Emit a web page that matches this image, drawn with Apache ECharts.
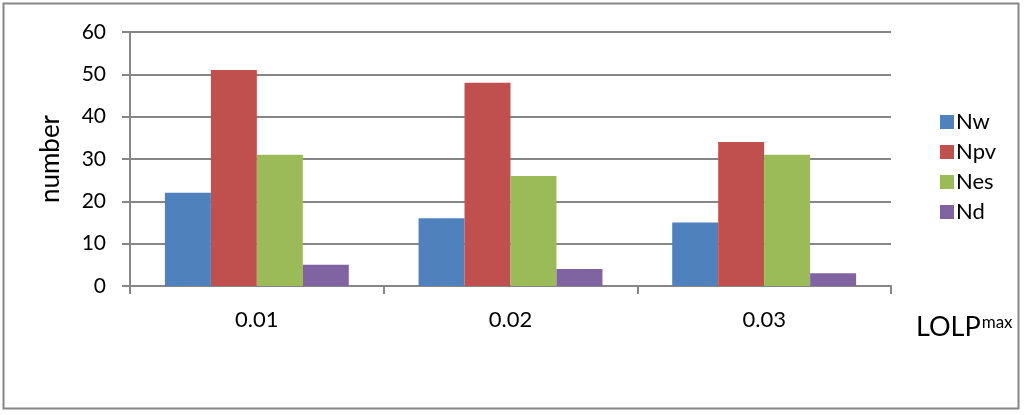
<!DOCTYPE html>
<html>
<head>
<meta charset="utf-8">
<script src="https://cdn.jsdelivr.net/npm/echarts@6/dist/echarts.min.js"></script>
<style>
  html, body { margin: 0; padding: 0; background: #fff; }
  #chart { width: 1024px; height: 415px; }
</style>
</head>
<body>
<div id="chart"></div>
<script>
// 数据
var categories = ["0.01", "0.02", "0.03"];
var seriesNames = ["Nw", "Npv", "Nes", "Nd"];
var nwData = [22, 16, 15];
var npvData = [51, 48, 34];
var nesData = [31, 26, 31];
var ndData = [5, 4, 3];
var colors = ["#4F81BD", "#C0504D", "#9BBB59", "#8064A2"];

var chart = echarts.init(document.getElementById("chart"));
var fontFamily = "Lato, 'Open Sans', sans-serif";
var gray = "#868686";

function bar(name, data, color) {
  return {
    name: name,
    type: "bar",
    data: data,
    barGap: 0,
    barCategoryGap: "27.5%",
    itemStyle: { color: color }
  };
}

chart.setOption({
  animation: false,
  textStyle: { fontFamily: fontFamily },
  // 外边框和横轴名称
  graphic: [
    {
      type: "rect",
      shape: { x: 3.5, y: 3.5, width: 1015, height: 405 },
      style: { fill: "none", stroke: gray, lineWidth: 2 }
    },
    {
      type: "text",
      left: 916,
      top: 314,
      style: {
        text: "{a|LOLP}{b|max}",
        rich: {
          a: { fontSize: 27, fontFamily: fontFamily, fill: "#000", verticalAlign: "top", lineHeight: 30 },
          b: { fontSize: 17, fontFamily: fontFamily, fill: "#000", verticalAlign: "top", lineHeight: 30, padding: [0, 0, 10, 1] }
        }
      }
    }
  ],
  legend: {
    data: seriesNames,
    orient: "vertical",
    left: 935,
    top: 106,
    itemWidth: 14,
    itemHeight: 14,
    itemGap: 8,
    icon: "rect",
    textStyle: { fontSize: 22, color: "#000", fontFamily: fontFamily, padding: [0, 0, 0, -3], lineHeight: 22 }
  },
  grid: { left: 130, right: 133, top: 32, bottom: 129 },
  xAxis: {
    type: "category",
    data: categories,
    axisLine: { lineStyle: { color: gray, width: 2 } },
    axisTick: { show: true, length: 8, lineStyle: { color: gray, width: 2 } },
    axisLabel: { fontSize: 22, color: "#000", margin: 23, fontFamily: fontFamily }
  },
  yAxis: {
    type: "value",
    min: 0,
    max: 60,
    interval: 10,
    name: "number",
    nameLocation: "middle",
    nameGap: 66,
    nameTextStyle: { fontSize: 26, color: "#000", fontFamily: fontFamily },
    axisLine: { show: true, lineStyle: { color: gray, width: 2 } },
    axisTick: { show: true, length: 8, lineStyle: { color: gray, width: 2 } },
    axisLabel: { fontSize: 21, color: "#000", margin: 24, fontFamily: fontFamily },
    splitLine: { lineStyle: { color: gray, width: 2 } }
  },
  series: [
    bar("Nw", nwData, colors[0]),
    bar("Npv", npvData, colors[1]),
    bar("Nes", nesData, colors[2]),
    bar("Nd", ndData, colors[3])
  ]
});
</script>
</body>
</html>
